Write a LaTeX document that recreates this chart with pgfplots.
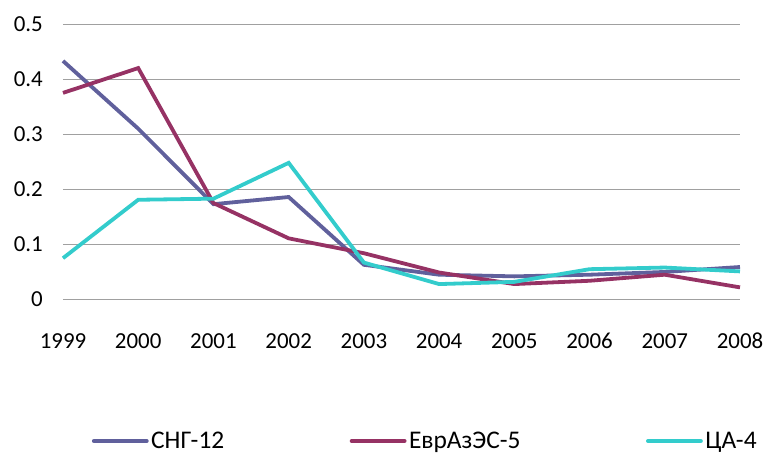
\documentclass[border=0pt]{standalone}
\usepackage{pgfplots}
\pgfplotsset{compat=1.18}
\usepackage{fontspec}
\setmainfont{Carlito}
\definecolor{cis}{HTML}{60609C}
\definecolor{eaes}{HTML}{963264}
\definecolor{ca}{HTML}{33CCCC}
\definecolor{gridgray}{HTML}{A0A0A0}
\begin{document}
\begin{tikzpicture}
\begin{axis}[
  scale only axis, width=677bp, height=275.5bp,
  xmin=1999, xmax=2008, ymin=0, ymax=0.5,
  axis line style={draw=none},
  xtick={1999,2000,2001,2002,2003,2004,2005,2006,2007,2008},
  ytick={0,0.1,0.2,0.3,0.4,0.5},
  ymajorgrids, grid style={color=gridgray, line width=1bp},
  major tick length=0pt,
  /pgf/number format/assume math mode=true,
  x tick label style={/pgf/number format/1000 sep={}, anchor=base, inner sep=0pt, yshift=-48.5bp},
  y tick label style={anchor=east, inner sep=0pt, xshift=-20bp},
  tick label style={font=\fontsize{23}{27}\selectfont},
  clip=false,
  every axis plot/.append style={line width=3.8bp, line join=miter},
  legend columns=3,
  legend style={draw=none, fill=none, at={(rel axis cs:0.038,-0.5136)}, anchor=west,
    font=\fontsize{25.5}{29}\selectfont,
    nodes={inner xsep=2.5bp, inner ysep=0pt},
    /tikz/every even column/.append style={column sep=123bp}},
  legend image code/.code={\draw[#1, line cap=round] (0bp,0bp) -- (53bp,0bp);},
]
\addplot[color=cis] coordinates {
(1999,0.433) (2000,0.310) (2001,0.173) (2002,0.186) (2003,0.063)
(2004,0.045) (2005,0.042) (2006,0.045) (2007,0.050) (2008,0.059)};
\addlegendentry{СНГ-12}
\addplot[color=eaes] coordinates {
(1999,0.375) (2000,0.420) (2001,0.175) (2002,0.111) (2003,0.084)
(2004,0.049) (2005,0.028) (2006,0.034) (2007,0.045) (2008,0.022)};
\addlegendentry{ЕврАзЭС-5}
\addplot[color=ca] coordinates {
(1999,0.075) (2000,0.181) (2001,0.183) (2002,0.248) (2003,0.067)
(2004,0.028) (2005,0.032) (2006,0.055) (2007,0.058) (2008,0.051)};
\addlegendentry{ЦА-4}
\end{axis}
\useasboundingbox (-63bp,-154.5bp) rectangle (706bp,299.5bp);
\end{tikzpicture}
\end{document}
